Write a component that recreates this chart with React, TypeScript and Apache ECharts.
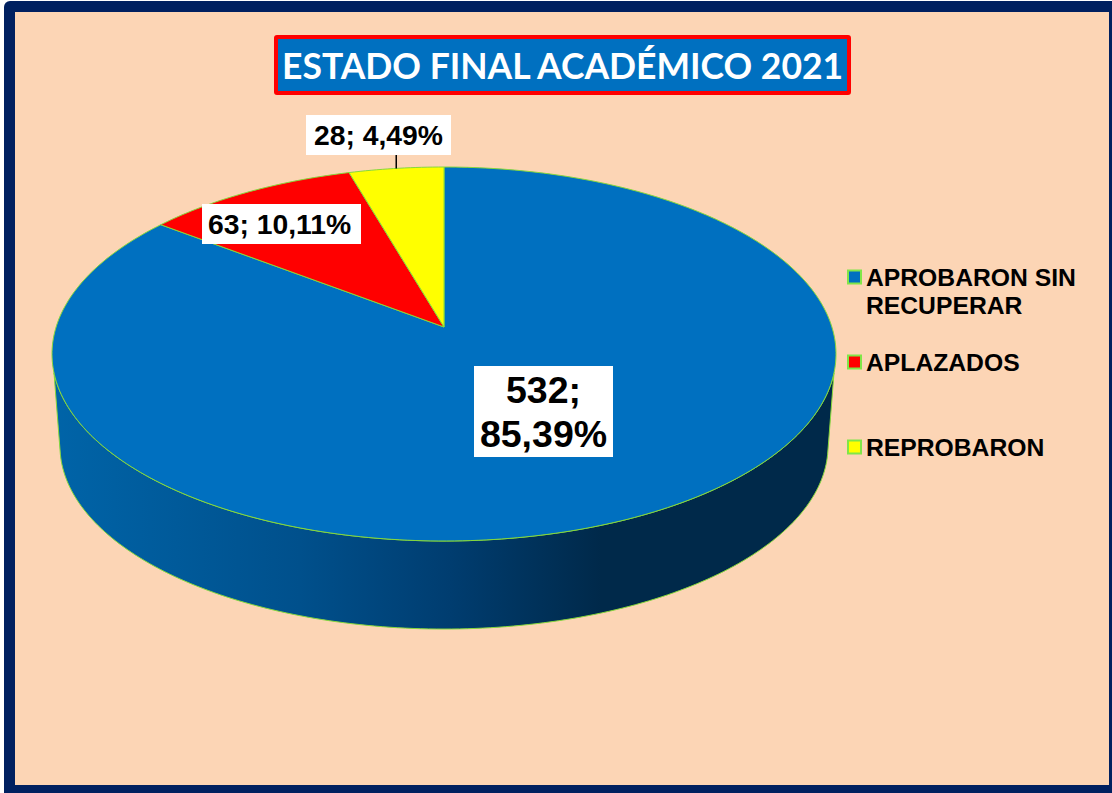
import React, { useEffect, useRef } from "react";
import * as echarts from "echarts";

const titleText = "ESTADO FINAL ACADÉMICO 2021";
const categories = ["APROBARON SIN\nRECUPERAR", "APLAZADOS", "REPROBARON"];
const values = [532, 63, 28];
const colors = ["#0070C0", "#FF0000", "#FFFF00"];

// label boxes: x, y, w, h, font size, text offset
const labelBoxes = [
  { x: 474, y: 366, w: 139, h: 91, size: 37.5, line: 44, dx: 0 },
  { x: 202, y: 204, w: 159, h: 40, size: 28.3, line: 30, dx: -2 },
  { x: 306, y: 115, w: 145, h: 40, size: 28.3, line: 30, dx: 0 },
];
const legendTops = [235, 348, 433];

// projection of the tilted disc
const K = 0.1444;
const top = { cx: 444, cy: 327, a: 387.9, b: 183.1 };
const bottom = { cx: 444, cy: 419.6, a: 380, b: 179.2 };
const GREEN = "#86D83C";
const MARKER_GREEN = "#80E648";

function project(d: typeof top, deg: number): number[] {
  const t = (deg * Math.PI) / 180;
  const u = Math.sin(t);
  const v = Math.cos(t);
  const w = 1 + K * v;
  return [d.cx + (d.a * u) / w, d.cy - (d.b * v) / w];
}

function arc(d: typeof top, from: number, to: number): number[][] {
  const n = Math.max(2, Math.ceil(Math.abs(to - from)));
  const pts: number[][] = [];
  for (let i = 0; i <= n; i++) pts.push(project(d, from + ((to - from) * i) / n));
  return pts;
}

const total = values.reduce((a, b) => a + b, 0);

function labelText(i: number): string {
  const pct = ((values[i] / total) * 100).toFixed(2).replace(".", ",");
  return i === 0 ? `${values[i]};\n${pct}%` : `${values[i]}; ${pct}%`;
}

function makeRenderItem(i: number) {
  return (_params: any, api: any) => {
    const start = (values.slice(0, i).reduce((a, b) => a + b, 0) / total) * 360;
    const end = start + (api.value(0) / total) * 360;
    const children: any[] = [];
    if (i === 0) {
      const side = [...arc(top, 104, 256), ...arc(bottom, 259, 101)];
      children.push({
        type: "polygon",
        shape: { points: side },
        style: {
          fill: new echarts.graphic.LinearGradient(
            53, 0, 836, 0,
            [
              { offset: 0, color: "#0064A8" },
              { offset: 0.315, color: "#00508C" },
              { offset: 0.507, color: "#003D70" },
              { offset: 0.7, color: "#00294A" },
              { offset: 1, color: "#00294A" },
            ],
            true,
          ),
          stroke: GREEN,
          lineWidth: 1,
        },
      });
    }
    children.push({
      type: "polygon",
      shape: { points: [[top.cx, top.cy], ...arc(top, start, end)] },
      style: { fill: colors[i], stroke: GREEN, lineWidth: 1 },
    });
    if (i === 2) {
      const mid = project(top, (start + end) / 2);
      children.push({
        type: "line",
        shape: { x1: mid[0], y1: labelBoxes[i].y + labelBoxes[i].h, x2: mid[0], y2: mid[1] },
        style: { stroke: "#000000", lineWidth: 1.5 },
      });
    }
    const b = labelBoxes[i];
    children.push({ type: "rect", shape: { x: b.x, y: b.y, width: b.w, height: b.h }, style: { fill: "#FFFFFF" } });
    children.push({
      type: "text",
      style: {
        text: labelText(i),
        x: b.x + b.w / 2 + b.dx,
        y: b.y + b.h / 2,
        align: "center",
        verticalAlign: "middle",
        fill: "#000000",
        fontFamily: "Liberation Sans",
        fontWeight: "bold",
        fontSize: b.size,
        lineHeight: b.line,
      },
    });
    return { type: "group", children };
  };
}

export default function App() {
  const ref = useRef<HTMLDivElement>(null);
  useEffect(() => {
    const chart = echarts.init(ref.current!, undefined, { renderer: "svg" });
    chart.setOption({
      animation: false,
      title: {
        text: titleText,
        left: 276,
        top: 37,
        padding: [6, 4, 6, 6],
        backgroundColor: "#0070C0",
        borderColor: "#FF0000",
        borderWidth: 4,
        borderRadius: 1,
        textStyle: { color: "#FFFFFF", fontFamily: "Lato", fontWeight: "bold", fontSize: 35.5, lineHeight: 44 },
      },
      legend: categories.map((name, i) => ({
        left: 847,
        top: legendTops[i],
        padding: 0,
        orient: "vertical",
        itemWidth: 13,
        itemHeight: 13,
        selectedMode: false,
        // a blank first line keeps a two-line name's first line level with its marker
        formatter: (n: string) => (n.includes("\n") ? `\n${n}` : n),
        data: [
          {
            name,
            icon: "rect",
            itemStyle: { color: colors[i], borderColor: MARKER_GREEN, borderWidth: 2 },
            textStyle: { color: "#000", fontFamily: "Liberation Sans", fontWeight: "bold", fontSize: 24.7, lineHeight: 28 },
          },
        ],
      })),
      graphic: [
        { type: "rect", z: -2, shape: { x: 4, y: 1, width: 1120, height: 800, r: 6 }, style: { fill: "#002060" } },
        { type: "rect", z: -1, shape: { x: 15, y: 12, width: 1094, height: 773 }, style: { fill: "#FCD5B5" } },
      ],
      series: categories.map((name, i) => ({
        type: "custom",
        name,
        coordinateSystem: "none",
        silent: true,
        itemStyle: { color: colors[i] },
        renderItem: makeRenderItem(i),
        data: [[values[i]]],
      })),
    });
    return () => chart.dispose();
  }, []);
  return <div ref={ref} style={{ position: "absolute", left: 0, top: 0, width: 1112, height: 793 }} />;
}
